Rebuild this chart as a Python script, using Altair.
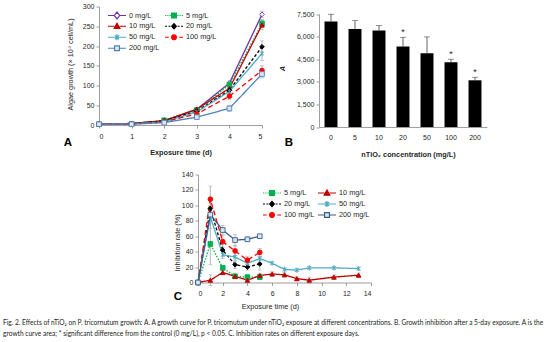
import altair as alt
import pandas as pd

# ---------------- values ----------------
series = ["0 mg/L", "5 mg/L", "10 mg/L", "20 mg/L", "50 mg/L", "100 mg/L", "200 mg/L"]

# Panel A: algae growth (x10^4 cell/mL)
days_a = [0, 1, 2, 3, 4, 5]
growth_0 = [2, 4, 10, 40, 106, 280]
growth_5 = [2, 3, 12, 38, 102, 257]
growth_10 = [2, 4, 11, 40, 93, 253]
growth_20 = [2, 3, 10, 35, 88, 198]
growth_50 = [2, 3, 8, 33, 85, 181]
growth_100 = [2, 2, 8, 28, 73, 138]
growth_200 = [2, 2, 6, 20, 42, 129]
growth_err_0 = [0, 1, 2, 3, 6, 8]
growth_err_5 = [0, 1, 2, 3, 5, 10]
growth_err_10 = [0, 1, 2, 3, 5, 12]
growth_err_20 = [0, 1, 1, 3, 6, 15]
growth_err_50 = [0, 1, 1, 3, 5, 18]
growth_err_100 = [0, 1, 1, 3, 8, 12]
growth_err_200 = [0, 1, 1, 2, 8, 10]

# Panel B: growth curve area A
conc_labels = ["0", "5", "10", "20", "50", "100", "200"]
area_vals = [7000, 6500, 6400, 5350, 4900, 4300, 3100]
area_err = [480, 560, 330, 600, 1080, 200, 200]
area_sig = ["", "", "", "*", "", "*", "*"]

# Panel C: inhibition rate (%)
series_c = ["5 mg/L", "10 mg/L", "20 mg/L", "50 mg/L", "100 mg/L", "200 mg/L"]
days_c_short = [0, 1, 2, 3, 4, 5]
days_c_long = [0, 1, 2, 3, 4, 5, 6, 7, 8, 9, 11, 13]
inhib_5 = [0, 50, 19, 8, 7, 7]
inhib_10 = [0, 3, 13, 8, 3, 9, 11, 10, 5, 3, 7, 9.5]
inhib_20 = [0, 96, 42, 23, 20, 24]
inhib_50 = [0, 85, 36, 33, 25, 31, 25, 17, 16, 19, 19, 18]
inhib_100 = [0, 108, 53, 41, 29, 39]
inhib_200 = [0, 88, 68, 55, 56, 60]
inhib_err_5 = [0, 27, 3, 3, 3, 3]
inhib_err_10 = [0, 7, 3, 3, 3, 3, 3, 3, 3, 4, 3, 3]
inhib_err_20 = [0, 10, 8, 5, 4, 8]
inhib_err_50 = [0, 15, 5, 5, 5, 3, 2, 2, 2, 2, 2, 2]
inhib_err_100 = [0, 17, 8, 6, 5, 5]
inhib_err_200 = [0, 8, 6, 7, 3, 2]

caption_lines = [
    "Fig. 2. Effects of nTiO\u2082 on P. tricornutum growth: A. A growth curve for P. tricornutum under nTiO\u2082 exposure at different concentrations. B. Growth inhibition after a 5-day exposure. A is the",
    "growth curve area; * significant difference from the control (0 mg/L), p < 0.05. C. Inhibition rates on different exposure days.",
]

# ---------------- styles ----------------
F = "Liberation Sans"
TXT = "#262626"
ERRC = "#A6A6A6"

colors_a = ["#7030A0", "#00B050", "#C00000", "#000000", "#4BACC6", "#FF0000", "#4F81BD"]
colors_c = ["#00B050", "#C00000", "#000000", "#4BACC6", "#FF0000", "#385D8A"]
dash_a = [[1, 0], [1.5, 1.5], [1, 0], [3, 2], [1, 0], [5, 3], [1, 0]]
STAR = "M-0.8,-0.8L0.8,0.8M-0.8,0.8L0.8,-0.8M0,-1.1V1.1"
shape_a = ["diamond", "square", "triangle-up", "diamond", STAR, "circle", "square"]
fill_a = ["#FFFFFF", "#00B050", "#C00000", "#000000", "#4BACC6", "#FF0000", "#DCE6F2"]

SIDES = "M-1,0H-0.3M0.3,0H1"
DOTS = "M-1,0H-0.9M-0.8,0H-0.7M-0.6,0H-0.5M-0.42,0H-0.33M0.33,0H0.42M0.5,0H0.6M0.7,0H0.8M0.9,0H1"
DASH = "M-1,0H-0.78M-0.62,0H-0.4M0.4,0H0.62M0.78,0H1"
LDASH = "M-1,0H-0.58M0.58,0H1"
M_DIAM = "M0,-0.38L0.3,0L0,0.38L-0.3,0Z"
M_SQ = "M-0.27,-0.27H0.27V0.27H-0.27Z"
M_TRI = "M0,-0.33L0.32,0.25H-0.32Z"
M_SDIAM = "M0,-0.3L0.26,0L0,0.3L-0.26,0Z"
M_STAR = "M-1,0H1M-0.24,-0.24L0.24,0.24M-0.24,0.24L0.24,-0.24M0,-0.32V0.32"
M_CIRC = "M0.26,0A0.26,0.26,0,1,1,-0.26,0A0.26,0.26,0,1,1,0.26,0Z"
legpath_a = [SIDES + M_DIAM, DOTS + M_SQ, SIDES + M_TRI, DASH + M_SDIAM,
             M_STAR, LDASH + M_CIRC, SIDES + M_SQ]


def long_df(names, days_lists, value_lists, err_lists):
    rows = []
    for name, d, v, e in zip(names, days_lists, value_lists, err_lists):
        for di, vi, ei in zip(d, v, e):
            rows.append({"series": name, "day": di, "value": vi, "err": ei})
    return pd.DataFrame(rows)


df_a = long_df(
    series,
    [days_a] * 7,
    [growth_0, growth_5, growth_10, growth_20, growth_50, growth_100, growth_200],
    [growth_err_0, growth_err_5, growth_err_10, growth_err_20, growth_err_50, growth_err_100, growth_err_200],
)
df_c = long_df(
    series_c,
    [days_c_short, days_c_long, days_c_short, days_c_long, days_c_short, days_c_short],
    [inhib_5, inhib_10, inhib_20, inhib_50, inhib_100, inhib_200],
    [inhib_err_5, inhib_err_10, inhib_err_20, inhib_err_50, inhib_err_100, inhib_err_200],
)

one = alt.Data(values=[{}])


def note(text, x, y, size=11.5, weight="bold", font=F, align="center", baseline="middle",
         line_height=None, color="black"):
    kw = dict(text=text, font=font, fontSize=size, fontWeight=weight, color=color,
              align=align, baseline=baseline)
    if line_height:
        kw["lineHeight"] = line_height
    return alt.Chart(one).mark_text(**kw).encode(x=alt.value(x), y=alt.value(y))


def line_panel(df, names, cols, dashes, shapes, fills, lpaths, xdom, xvals, xrange, ydom, yvals,
               yoffset, w, h, xtitle, xtitle_bold, xtitle_pos, ytitle, ytitle_pos, leg_xy,
               leg_clip, leg_colpad, extras):
    if xrange:
        xs = alt.Scale(domain=xdom, range=xrange, nice=False, zero=False, padding=0)
    else:
        xs = alt.Scale(domain=xdom, nice=False, zero=False, padding=0)
    ys = alt.Scale(domain=ydom, nice=False, zero=False, padding=0)
    xax = alt.Axis(
        values=xvals, title=xtitle, titleFontWeight="bold" if xtitle_bold else "normal",
        titleX=xtitle_pos[0], titleY=xtitle_pos[1], titleBaseline="middle", titleAlign="center",
        labelPadding=4, tickSize=3)
    yax = alt.Axis(
        values=yvals, title=ytitle, titleX=ytitle_pos[0], titleY=ytitle_pos[1], offset=yoffset,
        titleBaseline="middle", titleAlign="center", titleAngle=-90, labelPadding=2, tickSize=3)

    def X(f):
        return alt.X(f, type="quantitative", scale=xs, axis=xax)

    def Y(f):
        return alt.Y(f, type="quantitative", scale=ys, axis=yax)

    base = alt.Chart(df)
    err = base.transform_filter("datum.err > 0").transform_calculate(
        lo="datum.value - datum.err", hi="datum.value + datum.err")
    rules = err.mark_rule(color=ERRC, strokeWidth=0.8).encode(x=X("day"), y=Y("lo"), y2="hi:Q")
    caps = err.transform_fold(["lo", "hi"], as_=["k", "v"]).mark_tick(
        orient="horizontal", size=4, thickness=0.8, color=ERRC).encode(x=X("day"), y=Y("v"))
    lines = base.mark_line(strokeWidth=1.3).encode(
        x=X("day"), y=Y("value"),
        color=alt.Color("series:N", scale=alt.Scale(domain=names, range=cols), legend=None),
        strokeDash=alt.StrokeDash("series:N", scale=alt.Scale(domain=names, range=dashes), legend=None))
    pts = base.mark_point(filled=True, size=22, strokeWidth=0.9, opacity=1).encode(
        x=X("day"), y=Y("value"),
        shape=alt.Shape("series:N", scale=alt.Scale(domain=names, range=shapes), legend=None),
        stroke=alt.Stroke("series:N", scale=alt.Scale(domain=names, range=cols), legend=None),
        fill=alt.Fill("series:N", scale=alt.Scale(domain=names, range=fills), legend=None))
    leg = alt.Legend(orient="none", legendX=leg_xy[0], legendY=leg_xy[1], columns=2,
                     direction="horizontal", title=None,
                     symbolSize=324, symbolOpacity=1, symbolStrokeWidth=1.2, clipHeight=leg_clip,
                     columnPadding=leg_colpad, rowPadding=0, labelOffset=2, labelFont=F,
                     labelFontSize=7.3, labelColor=TXT, padding=0)
    legl = base.mark_point(filled=True, opacity=0).encode(
        x=X("day"), y=Y("value"),
        shape=alt.Shape("series:N", scale=alt.Scale(domain=names, range=lpaths), legend=leg),
        stroke=alt.Stroke("series:N", scale=alt.Scale(domain=names, range=cols), legend=leg),
        fill=alt.Fill("series:N", scale=alt.Scale(domain=names, range=fills), legend=leg))
    return alt.layer(rules, caps, lines, pts, legl, *extras).resolve_scale(
        color="independent", stroke="independent", fill="independent",
        shape="independent", strokeDash="independent").properties(width=w, height=h)


# ---------- Panel A (plot origin at 99, 6.5) ----------
panel_a = line_panel(
    df_a, series, colors_a, dash_a, shape_a, fill_a, legpath_a,
    [0, 5], [0, 1, 2, 3, 4, 5], None, [0, 300], [0, 50, 100, 150, 200, 250, 300], 0,
    163, 118.5,
    "Exposure time (d)", True, (81.5, 27.5),
    "Algae growth (\u00d7 10\u2074 cell/mL)", (-29, 57.5),
    (8, 3.5), 10.5, 4,
    [note("A", -31, 136.5)])

# ---------- Panel C (cell origin at 319, 174; plot spans 198..371) ----------
idx_c = [series.index(s) for s in series_c]
panel_c = line_panel(
    df_c, series_c, colors_c, [dash_a[i] for i in idx_c], [shape_a[i] for i in idx_c],
    [fill_a[i] for i in idx_c], [legpath_a[i] for i in idx_c],
    [0, 14], [0, 2, 4, 6, 8, 10, 12, 14], [-121, 52], [0, 140],
    [0, 20, 40, 60, 80, 100, 120, 140], 121,
    52, 108,
    "Exposure time  (d)", False, (-49, 23.5),
    "Inhibition rate (%)", (-21, 68),
    (-57, 13), 11, 2,
    [note("C", -141, 122),
     note(caption_lines, -316, 145, size=6.6, weight="normal", font="Lato", align="left",
          baseline="top", line_height=11, color="#222222")])

# ---------- Panel B (plot origin at 319, 6.5) ----------
df_b = pd.DataFrame({"conc": conc_labels, "area": area_vals, "err": area_err, "sig": area_sig})
xb = alt.Scale(domain=conc_labels, paddingInner=0.46, paddingOuter=0.23)
yb = alt.Scale(domain=[0, 7500], range=[120.5, 7.5], nice=False, zero=False, padding=0)
xb_ax = alt.Axis(title="nTiO\u2082 concentration (mg/L)", labelAngle=0, ticks=False, labelPadding=6,
                 titleFontWeight="bold", titleX=89, titleY=27, titleBaseline="middle",
                 titleAlign="center")
yb_ax = alt.Axis(values=[0, 1500, 3000, 4500, 6000, 7500], title="A", titleFontStyle="italic",
                 titleFontWeight="bold", titleX=-37, titleY=61.5, titleAngle=-90,
                 titleBaseline="middle", titleAlign="center", labelPadding=2, tickSize=3)
XB = alt.X("conc:N", scale=xb, sort=None, axis=xb_ax)


def YB(f):
    return alt.Y(f, type="quantitative", scale=yb, axis=yb_ax)


base_b = alt.Chart(df_b)
bars = base_b.mark_bar(color="black").encode(x=XB, y=YB("area"))
hi_b = base_b.transform_calculate(hi="datum.area + datum.err")
err_b = hi_b.mark_rule(color="#404040", strokeWidth=0.8).encode(x=XB, y=YB("area"), y2="hi:Q")
cap_b = hi_b.mark_tick(orient="horizontal", size=6, thickness=0.8, color="#404040").encode(
    x=XB, y=YB("hi"))
star_b = hi_b.mark_text(font=F, fontSize=9, color=TXT, baseline="middle", dy=-5).encode(
    x=XB, y=YB("hi"), text="sig:N")
panel_b = alt.layer(bars, err_b, cap_b, star_b, note("B", -30, 136.5)).properties(
    width=168, height=120.5)

# spacer cell (first cell of the second row)
spacer = alt.Chart(one).mark_point(opacity=0).encode(
    x=alt.value(0), y=alt.value(0)).properties(width=1, height=1)

chart = alt.concat(
    panel_a, panel_b, spacer, panel_c,
    columns=2, spacing={"row": 47, "column": 57}, bounds="flush"
).properties(
    padding={"left": 99, "top": 6.5, "right": 450, "bottom": 335.5},
    autosize=alt.AutoSizeParams(type="none")
).configure_view(stroke=None).configure_axis(
    labelFont=F, titleFont=F, labelFontSize=7, titleFontSize=7.3, labelColor=TXT, titleColor=TXT,
    domainColor="#868686", tickColor="#868686", domainWidth=0.8, tickWidth=0.8, grid=False,
    titleFontWeight="normal"
)

chart.save("out.html", embed_options={"renderer": "svg", "actions": False})
